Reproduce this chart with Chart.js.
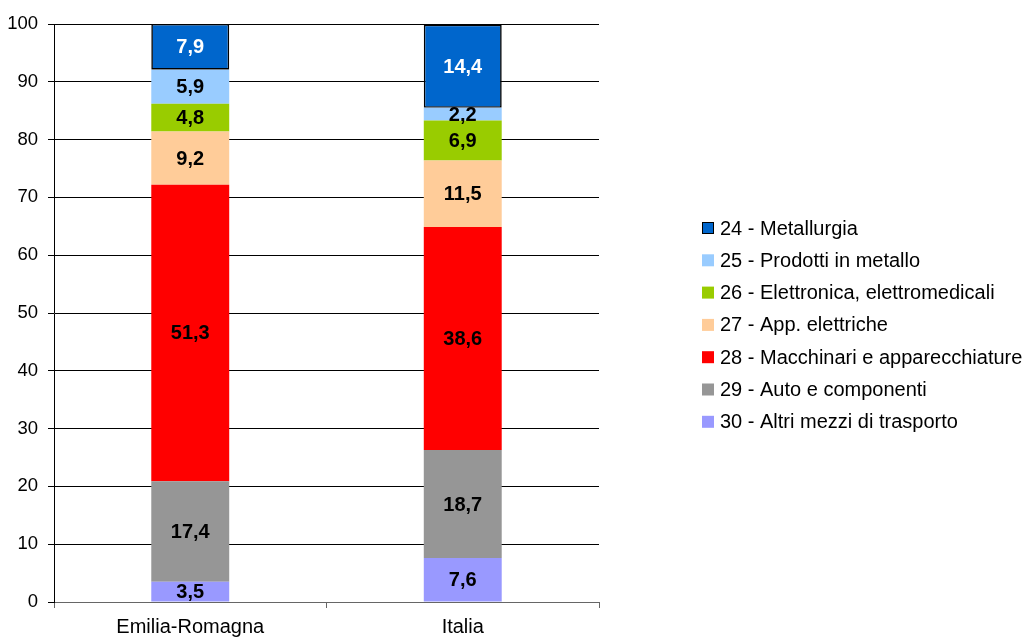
<!DOCTYPE html>
<html><head><meta charset="utf-8">
<script src="https://cdn.jsdelivr.net/npm/chart.js@4"></script>
<style>html,body{margin:0;padding:0;background:#fff}canvas{display:block}</style>
</head><body>
<canvas id="c" width="1024" height="639" style="width:1024px;height:639px"></canvas>
<script>
const categories = ['Emilia-Romagna', 'Italia'];
const seriesNames = ['30 - Altri mezzi di trasporto', '29 - Auto e componenti', '28 - Macchinari e apparecchiature', '27 - App. elettriche', '26 - Elettronica, elettromedicali', '25 - Prodotti in metallo', '24 - Metallurgia'];
const altriMezzi = [3.5, 7.6];
const autoComponenti = [17.4, 18.7];
const macchinari = [51.3, 38.6];
const appElettriche = [9.2, 11.5];
const elettronica = [4.8, 6.9];
const prodottiMetallo = [5.9, 2.2];
const metallurgia = [7.9, 14.4];
const yTicks = [0, 10, 20, 30, 40, 50, 60, 70, 80, 90, 100];

const seriesValues = [altriMezzi, autoComponenti, macchinari, appElettriche, elettronica, prodottiMetallo, metallurgia];
const seriesColors = ['#9999FF', '#969696', '#FF0000', '#FFCC99', '#99CC00', '#99CCFF', '#0066CC'];
const labelColors = ['#000', '#000', '#000', '#000', '#000', '#000', '#fff'];

const datasets = seriesNames.map((name, i) => ({
  label: name,
  data: seriesValues[i],
  backgroundColor: seriesColors[i],
  borderColor: i === 6 ? '#000' : 'rgba(0,0,0,0)',
  borderWidth: i === 6 ? 1.6 : 0,
  borderSkipped: false,
  inflateAmount: 0,
  categoryPercentage: 1,
  barPercentage: 0.286,
  stack: 's'
}));

const valueLabels = {
  id: 'valueLabels',
  afterDatasetsDraw(chart) {
    const ctx = chart.ctx;
    ctx.save();
    ctx.font = 'bold 20px "Liberation Sans", Arial, sans-serif';
    ctx.textAlign = 'center';
    ctx.textBaseline = 'middle';
    chart.data.datasets.forEach((ds, i) => {
      const meta = chart.getDatasetMeta(i);
      meta.data.forEach((bar, j) => {
        const v = ds.data[j];
        const yc = (bar.y + bar.base) / 2;
        ctx.fillStyle = labelColors[i];
        ctx.fillText(v.toFixed(1).replace('.', ','), bar.x, yc + 1);
      });
    });
    ctx.restore();
  }
};

const customLegend = {
  id: 'customLegend',
  afterDraw(chart) {
    const ctx = chart.ctx;
    ctx.save();
    ctx.font = '20px "Liberation Sans", Arial, sans-serif';
    ctx.textAlign = 'left';
    ctx.textBaseline = 'middle';
    const n = chart.data.datasets.length;
    for (let k = 0; k < n; k++) {
      const i = n - 1 - k;
      const ds = chart.data.datasets[i];
      const yc = 228 + k * 32.3;
      ctx.fillStyle = ds.backgroundColor;
      ctx.fillRect(702, yc - 6, 12, 12);
      if (ds.borderWidth) {
        ctx.strokeStyle = '#000';
        ctx.lineWidth = 1;
        ctx.strokeRect(702.5, yc - 5.5, 11, 11);
      }
      ctx.fillStyle = '#000';
      ctx.fillText(ds.label, 720, yc + 1);
    }
    ctx.restore();
  }
};

new Chart(document.getElementById('c'), {
  type: 'bar',
  data: { labels: categories, datasets },
  options: {
    responsive: false,
    devicePixelRatio: 1,
    animation: false,
    layout: { padding: { left: 0, right: 425, top: 24, bottom: 0 } },
    plugins: { legend: { display: false }, tooltip: { enabled: false } },
    scales: {
      x: {
        stacked: true,
        grid: { display: true, offset: true, drawOnChartArea: false, drawTicks: true, tickLength: 6, color: '#666' },
        border: { display: true, color: '#666', width: 1 },
        ticks: { color: '#000', padding: 7, font: { family: '"Liberation Sans", Arial, sans-serif', size: 20 } },
        afterFit(s) { s.height = 37; }
      },
      y: {
        stacked: true,
        min: 0, max: 100,
        afterBuildTicks(s) { s.ticks = yTicks.map(v => ({ value: v })); },
        grid: { color: '#000', lineWidth: 1, tickLength: 6, drawTicks: true },
        border: { display: true, color: '#000', width: 1 },
        ticks: { color: '#000', padding: 10, font: { family: '"Liberation Sans", Arial, sans-serif', size: 18.5 } },
        afterFit(s) { s.width = 54; }
      }
    }
  },
  plugins: [valueLabels, customLegend]
});
</script>
</body></html>
